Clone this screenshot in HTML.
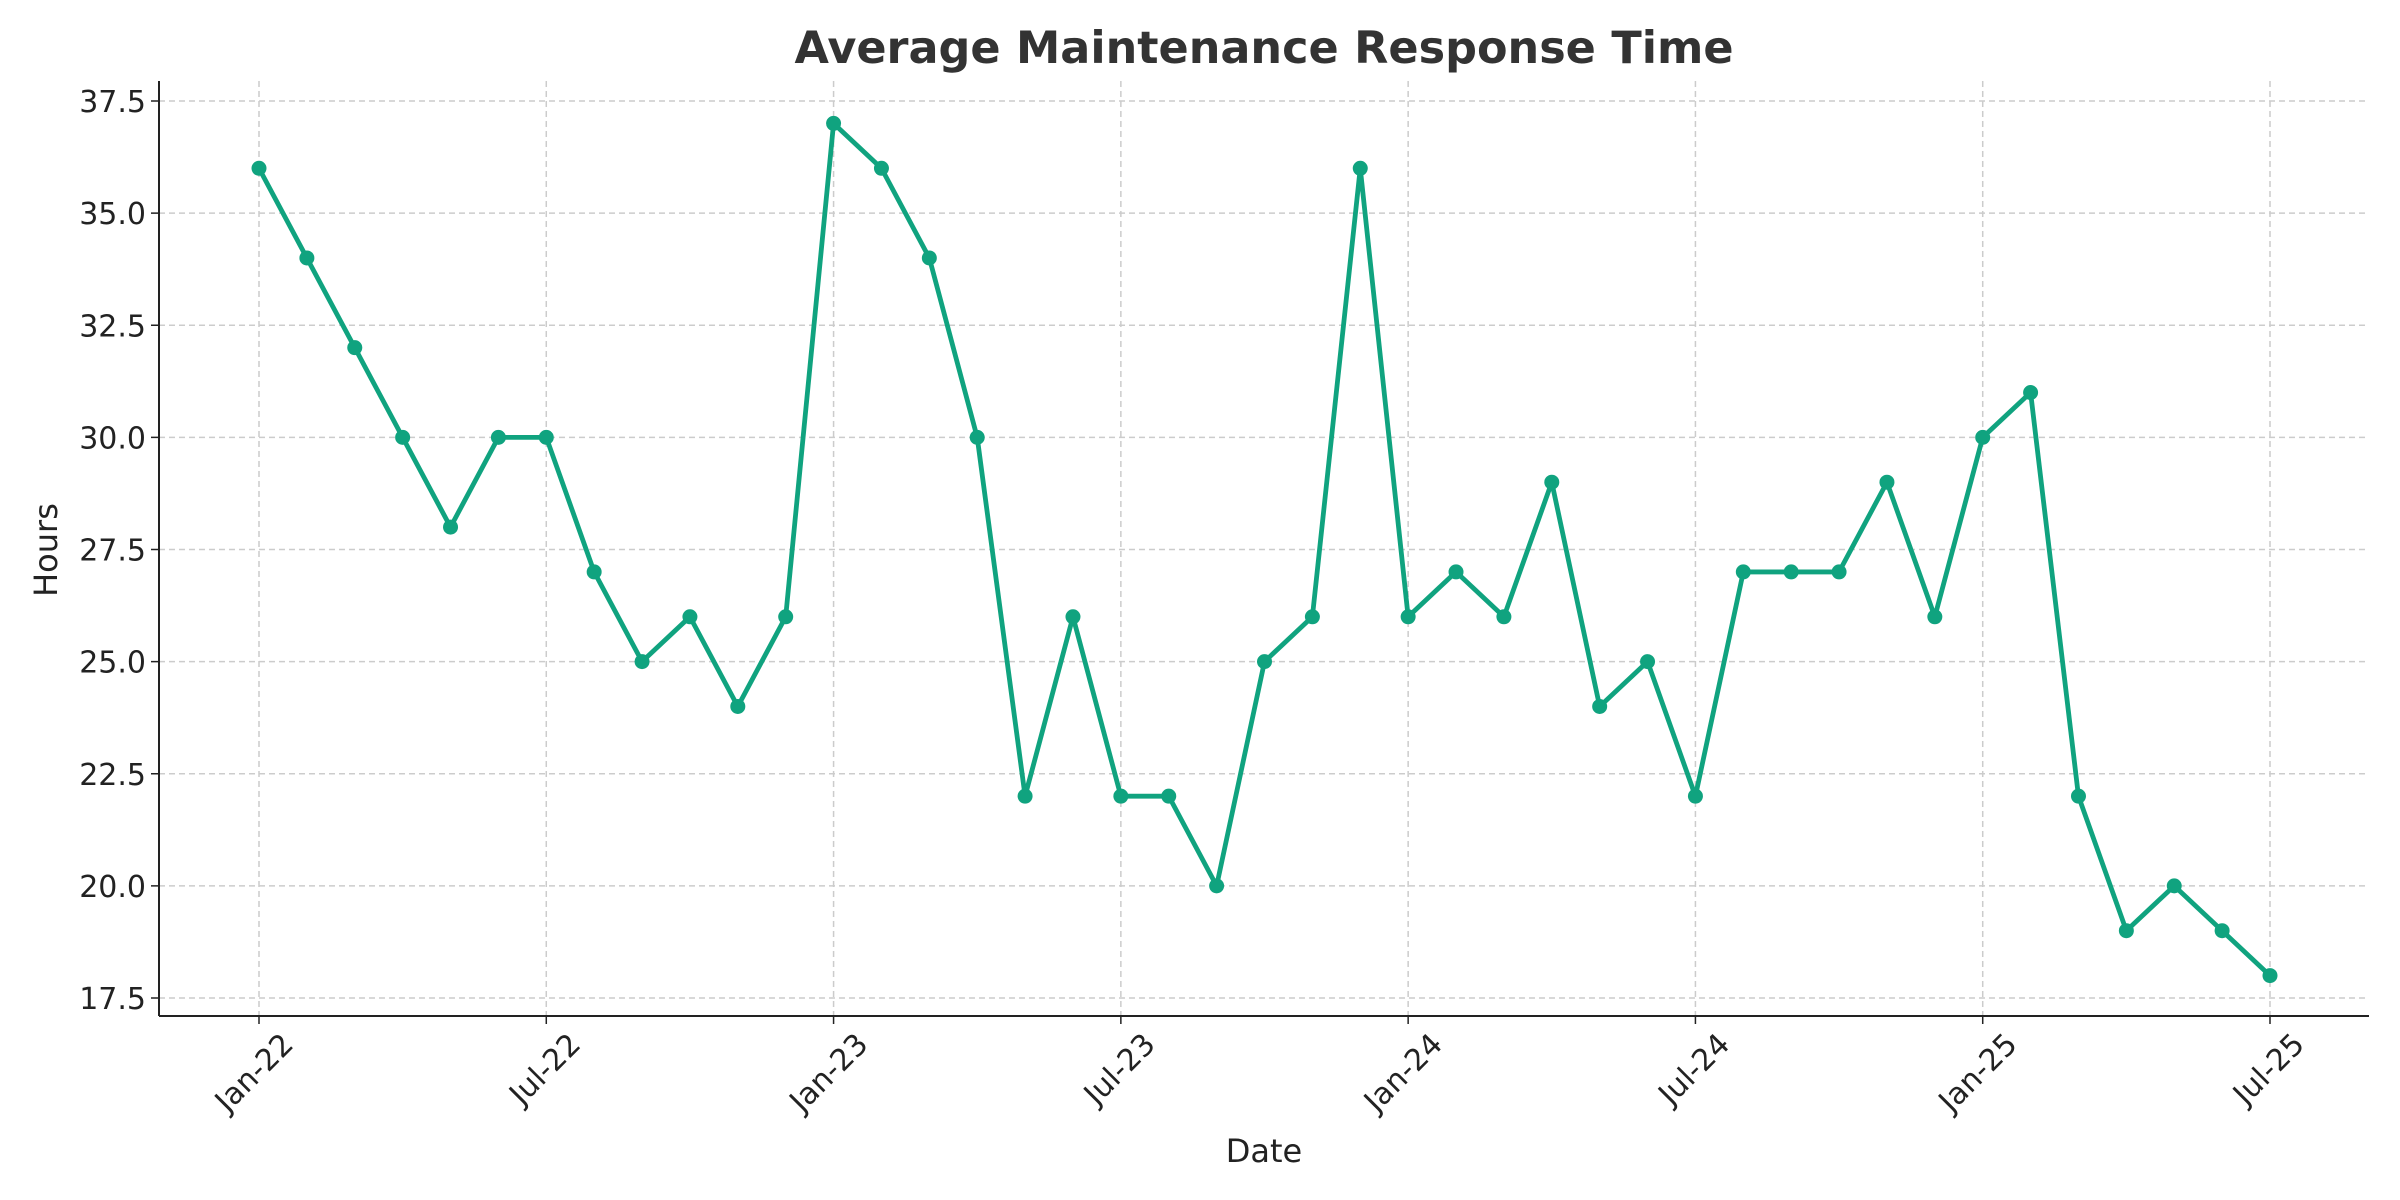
<!DOCTYPE html>
<html><head><meta charset="utf-8"><style>
html,body{margin:0;padding:0;background:#fff;}
svg{display:block;font-family:"DejaVu Sans","Liberation Sans",sans-serif;}
</style></head><body>
<svg id="chart" width="2400" height="1200" viewBox="0 0 2400 1200">
<text x="1264" y="63" text-anchor="middle" font-size="44.5" font-weight="bold" fill="#333">Average Maintenance Response Time</text>
<g id="grid"></g>
<g id="axes"></g>
<g id="series"></g>
<text x="1264" y="1162" text-anchor="middle" font-size="32" fill="#222">Date</text>
<text transform="translate(57,550) rotate(-90)" text-anchor="middle" font-size="32" fill="#222">Hours</text>
</svg>
<script>
const months = ["Jan-22","Feb-22","Mar-22","Apr-22","May-22","Jun-22","Jul-22","Aug-22","Sep-22","Oct-22","Nov-22","Dec-22","Jan-23","Feb-23","Mar-23","Apr-23","May-23","Jun-23","Jul-23","Aug-23","Sep-23","Oct-23","Nov-23","Dec-23","Jan-24","Feb-24","Mar-24","Apr-24","May-24","Jun-24","Jul-24","Aug-24","Sep-24","Oct-24","Nov-24","Dec-24","Jan-25","Feb-25","Mar-25","Apr-25","May-25","Jun-25","Jul-25"];
const hours = [36,34,32,30,28,30,30,27,25,26,24,26,37,36,34,30,22,26,22,22,20,25,26,36,26,27,26,29,24,25,22,27,27,27,29,26,30,31,22,19,20,19,18];
const yTicks = [17.5,20.0,22.5,25.0,27.5,30.0,32.5,35.0,37.5];
const xTickLabels = ["Jan-22","Jul-22","Jan-23","Jul-23","Jan-24","Jul-24","Jan-25","Jul-25"];

const NS="http://www.w3.org/2000/svg";
const L=159,R=2369,T=81,B=1016;
const x0=259,x1=2270;
function xs(i){return x0+i*(x1-x0)/(months.length-1);}
function ys(v){return 998+(v-17.5)*(101-998)/20;}
function mk(tag,attrs,parent){const e=document.createElementNS(NS,tag);for(const k in attrs)e.setAttribute(k,attrs[k]);parent.appendChild(e);return e;}
const grid=document.getElementById('grid'),axes=document.getElementById('axes'),series=document.getElementById('series');

yTicks.forEach(v=>{
  const y=ys(v);
  const g=mk('line',{x1:L,x2:R,y1:y,y2:y,stroke:'#ccc','stroke-width':1.5,'stroke-dasharray':'6,4'},grid);
  
  
  mk('line',{x1:L-8,x2:L,y1:y,y2:y,stroke:'#222','stroke-width':1.5},axes);
  const t=mk('text',{x:L-13,y:y+11,'text-anchor':'end','font-size':30,fill:'#222'},axes);
  t.textContent=v.toFixed(1);
  
  
});
xTickLabels.forEach(lbl=>{
  const i=months.indexOf(lbl);const x=xs(i);
  const g=mk('line',{x1:x,x2:x,y1:T,y2:B,stroke:'#ccc','stroke-width':1.5,'stroke-dasharray':'6,4'},grid);
  
  
  mk('line',{x1:x,x2:x,y1:B,y2:B+8,stroke:'#222','stroke-width':1.5},axes);
  const ax=x+36, ay=B+30;
  const t=mk('text',{x:ax,y:ay,'text-anchor':'end','font-size':30,fill:'#222',transform:`rotate(-45 ${ax} ${ay})`},axes);
  t.textContent=lbl;
  
  
});
mk('line',{x1:L,x2:L,y1:T,y2:B,stroke:'#222','stroke-width':2},axes);
mk('line',{x1:L,x2:R,y1:B,y2:B,stroke:'#222','stroke-width':2},axes);

const pts=hours.map((v,i)=>xs(i)+','+ys(v)).join(' ');
const line=mk('polyline',{points:pts,fill:'none',stroke:'#10a37f','stroke-width':4.8,'stroke-linejoin':'round'},series);


hours.forEach((v,i)=>{
  const c=mk('circle',{cx:xs(i),cy:ys(v),r:7.5,fill:'#10a37f'},series);
  
  
});
</script>
</body></html>
